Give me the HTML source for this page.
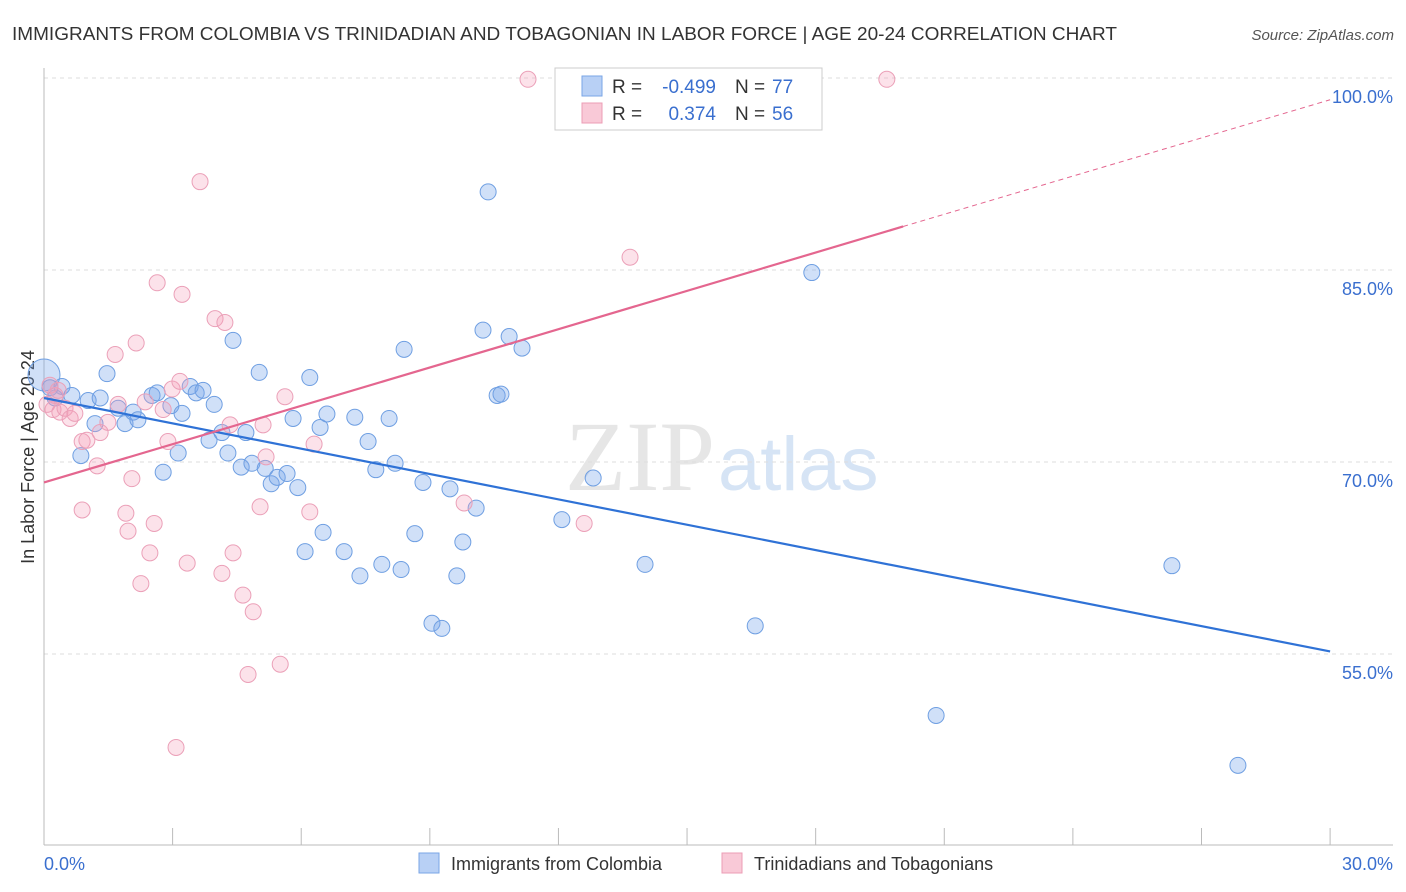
<!DOCTYPE html>
<html><head><meta charset="utf-8"><style>
body{margin:0;background:#fff;font-family:"Liberation Sans",sans-serif;}
#c{position:relative;width:1406px;height:892px;overflow:hidden;}
</style></head><body>
<div id="c">
<svg id="s" width="1406" height="892" xmlns="http://www.w3.org/2000/svg">
<text x="12" y="40" font-size="18" fill="#333" textLength="1105" lengthAdjust="spacingAndGlyphs">IMMIGRANTS FROM COLOMBIA VS TRINIDADIAN AND TOBAGONIAN IN LABOR FORCE | AGE 20-24 CORRELATION CHART</text>
<text x="1394" y="40" font-size="15" fill="#555" font-style="italic" text-anchor="end">Source: ZipAtlas.com</text>
<text x="715" y="490" font-size="100" fill="#e6e6e6" text-anchor="end" font-family="Liberation Serif">ZIP</text>
<text x="718" y="490" font-size="76" fill="#d6e4f5">atlas</text>
<text transform="translate(34,457) rotate(-90)" font-size="18" fill="#333" text-anchor="middle">In Labor Force | Age 20-24</text>
<g id="grid"></g><g id="marks"></g>
<g>
<rect x="555" y="68" width="267" height="62" fill="#fff" stroke="#ccc"/>
<rect x="582" y="76" width="20" height="20" fill="#b8d0f5" stroke="#7aa6e6"/>
<rect x="582" y="103" width="20" height="20" fill="#f9c9d7" stroke="#ec9db5"/>
<text x="612" y="93" font-size="19" fill="#333">R =</text>
<text x="716" y="93" font-size="19" fill="#3a6fcf" text-anchor="end">-0.499</text>
<text x="735" y="93" font-size="19" fill="#333">N =</text>
<text x="772" y="93" font-size="19" fill="#3a6fcf">77</text>
<text x="612" y="120" font-size="19" fill="#333">R =</text>
<text x="716" y="120" font-size="19" fill="#3a6fcf" text-anchor="end">0.374</text>
<text x="735" y="120" font-size="19" fill="#333">N =</text>
<text x="772" y="120" font-size="19" fill="#3a6fcf">56</text>
</g>
<g>
<rect x="419" y="853" width="20" height="20" fill="#b8d0f5" stroke="#7aa6e6"/>
<text x="451" y="870" font-size="18" fill="#333">Immigrants from Colombia</text>
<rect x="722" y="853" width="20" height="20" fill="#f9c9d7" stroke="#ec9db5"/>
<text x="754" y="870" font-size="18" fill="#333">Trinidadians and Tobagonians</text>
</g>
</svg></div>
<script>
const yTicks=[55,70,85,100];
const yTickLabels=["55.0%","70.0%","85.0%","100.0%"];
const xTickLabels=["0.0%","30.0%"];
const blueX=[0,0.14,0.42,0.65,0.26,1.03,1.31,1.47,0.86,1.19,1.73,1.89,2.08,2.19,2.52,2.64,2.78,2.96,3.13,3.22,3.41,3.55,3.71,3.97,3.85,4.15,4.29,4.41,4.60,4.71,4.85,5.02,5.16,5.30,5.44,5.67,5.81,5.92,6.09,6.20,6.44,6.51,6.60,7.0,7.25,7.37,7.56,7.74,7.88,8.05,8.19,8.33,8.40,8.65,8.84,9.05,9.28,9.47,9.63,9.77,10.08,10.24,10.36,10.57,10.66,10.85,11.15,12.08,12.81,14.02,16.59,17.91,20.81,26.31,27.85];
const blueY=[76.8,75.8,75.9,75.2,75.0,74.8,75.0,76.9,70.5,73.0,74.2,73.0,73.9,73.3,75.2,75.4,69.2,74.4,70.7,73.8,75.9,75.4,75.6,74.5,71.7,72.3,70.7,79.5,69.6,72.3,69.9,77.0,69.5,68.3,68.8,69.1,73.4,68.0,63.0,76.6,72.7,64.5,73.75,63.0,73.5,61.1,71.6,69.4,62.0,73.4,69.9,61.6,78.8,64.4,68.4,57.4,57.0,67.9,61.1,63.75,66.4,80.3,91.1,75.2,75.3,79.8,78.9,65.5,68.75,62.0,57.2,84.8,50.2,61.9,46.3];
const pinkX=[0.14,0.26,0.21,0.37,0.49,0.61,0.72,0.89,1.0,1.31,1.24,0.89,1.49,1.66,1.73,1.91,1.96,2.05,2.15,2.26,2.36,2.47,2.57,2.64,2.78,2.89,2.99,3.08,3.17,3.22,3.34,3.64,3.99,4.15,4.22,4.34,4.41,4.64,4.88,5.04,5.11,5.18,4.76,5.51,5.62,6.2,6.3,9.80,11.29,12.6,13.67,19.66,0.07,0.33];
const pinkY=[76.0,75.2,74.1,73.9,74.2,73.4,73.8,71.6,71.7,72.3,69.7,66.25,73.1,78.4,74.5,66.0,64.6,68.7,79.3,60.5,74.7,62.9,65.2,84.0,74.1,71.6,75.7,47.7,76.3,83.1,62.1,91.9,81.2,61.3,80.9,72.9,62.9,59.6,58.3,66.5,72.9,70.4,53.4,54.2,75.1,66.1,71.4,66.8,99.9,65.2,86.0,99.9,74.5,75.6];
const blueTrend=[75.0,55.2];
const pinkTrend=[68.4,88.4,98.3];
const pinkSolidEnd=20.04;
const NS="http://www.w3.org/2000/svg";
const X=v=>44+v*42.87, Y=v=>78+(100-v)*12.8;
function mk(t,a,p){const e=document.createElementNS(NS,t);for(const k in a)e.setAttribute(k,a[k]);p.appendChild(e);return e;}
const g=document.getElementById('grid'),m=document.getElementById('marks');
yTicks.forEach((t,i)=>{
 const l=mk('line',{x1:44,x2:1393,y1:Y(t),y2:Y(t),stroke:'#ddd','stroke-dasharray':'4,4'},g);
 
 
 const tx=mk('text',{x:1393,y:Y(t)+25,'font-size':18,fill:'#3a6fcf','text-anchor':'end'},g);
 tx.textContent=yTickLabels[i];
 
 
});
const ax=mk('line',{x1:44,x2:1393,y1:845,y2:845,stroke:'#bbb'},g);


const ay=mk('line',{x1:44,x2:44,y1:68,y2:845,stroke:'#bbb'},g);


for(let v=3;v<=30;v+=3){const t=mk('line',{x1:X(v),x2:X(v),y1:828,y2:845,stroke:'#bbb'},g);
 
 }
[[0,'start'],[30,'middle']].forEach((d,i)=>{const t=mk('text',{x:i?1393:44,y:870,'font-size':18,fill:'#3a6fcf','text-anchor':i?'end':'start'},g);
 t.textContent=xTickLabels[i];
 
 });
blueX.forEach((x,i)=>{const c=mk('circle',{cx:X(x),cy:Y(blueY[i]),r:i===0?16:8,fill:'rgba(120,165,235,0.35)',stroke:'#6f9fe2','stroke-width':1},m);
 
 });
pinkX.forEach((x,i)=>{const c=mk('circle',{cx:X(x),cy:Y(pinkY[i]),r:8,fill:'rgba(245,160,185,0.3)',stroke:'#eba0b8','stroke-width':1},m);
 
 });
const bl=mk('line',{x1:X(0),y1:Y(blueTrend[0]),x2:X(30),y2:Y(blueTrend[1]),stroke:'#2f72d6','stroke-width':2.2},m);


const pl=mk('line',{x1:X(0),y1:Y(pinkTrend[0]),x2:X(pinkSolidEnd),y2:Y(pinkTrend[1]),stroke:'#e4668f','stroke-width':2.2},m);


const pd=mk('line',{x1:X(pinkSolidEnd),y1:Y(pinkTrend[1]),x2:X(30),y2:Y(pinkTrend[2]),stroke:'#e4668f','stroke-width':1,'stroke-dasharray':'5,4'},m);


</script>
</body></html>
